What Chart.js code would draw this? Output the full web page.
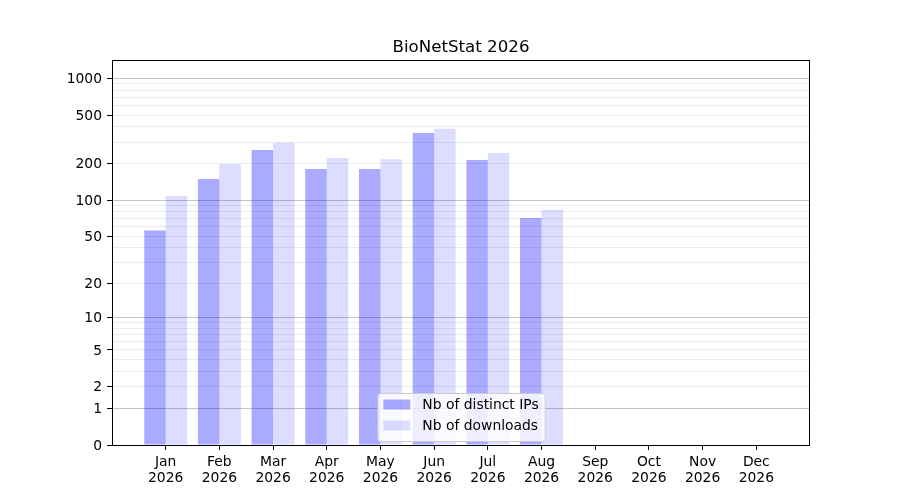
<!DOCTYPE html>
<html lang="en">
<head>
    <meta charset="UTF-8">
    <title>BioNetStat 2026</title>
    <script src="https://cdn.jsdelivr.net/npm/chart.js"></script>
    <style>
        body { margin: 0; background: #fff; }
    </style>
</head>
<body>
    <canvas id="stats" width="900" height="500"></canvas>
<script>
    const title = "BioNetStat 2026";
    const months = ["Jan", "Feb", "Mar", "Apr", "May", "Jun", "Jul", "Aug", "Sep", "Oct", "Nov", "Dec"];
    const year = "2026";
    // data only runs up to August
    const ips = [56, 149, 258, 180, 180, 356, 214, 71];
    const downloads = [108, 198, 297, 222, 217, 386, 244, 83];

    const yLabels = [0, 1, 2, 5, 10, 20, 50, 100, 200, 500, 1000];
    const yMinor = [3, 4, 6, 7, 8, 9, 30, 40, 60, 70, 80, 90, 300, 400, 600, 700, 800, 900];
    const yMajor = [0, 1, 10, 100, 1000];

    const FONT = "DejaVu Sans";

    // y axis is log10(1 + v), so 0 can sit at the bottom
    class Log1pScale extends Chart.Scale {
        static id = "log1p";
        static defaults = {};

        parse(raw) {
            if (raw === null || raw === undefined) return null;
            const v = Number(raw);
            return isFinite(v) && v >= 0 ? v : null;
        }

        determineDataLimits() {
            const { min, max } = this.getMinMax(true);
            this.min = isFinite(this.options.min) ? this.options.min : Math.max(0, min);
            this.max = isFinite(this.options.max) ? this.options.max : max;
        }

        buildTicks() {
            return yLabels.concat(yMinor)
                .sort((a, b) => a - b)
                .filter(v => v >= this.min && v <= this.max)
                .map(v => ({ value: v }));
        }

        getLabelForValue(value) {
            return String(value);
        }

        configure() {
            const start = this.min;
            super.configure();
            this._startValue = Math.log10(1 + start);
            this._valueRange = Math.log10(1 + this.max) - this._startValue;
        }

        getPixelForValue(value) {
            if (value === null || value === undefined || isNaN(value)) return NaN;
            return this.getPixelForDecimal((Math.log10(1 + value) - this._startValue) / this._valueRange);
        }

        getValueForPixel(pixel) {
            return Math.pow(10, this._startValue + this.getDecimalForPixel(pixel) * this._valueRange) - 1;
        }
    }
    Chart.register(Log1pScale);

    // frame, title and legend drawn the matplotlib way
    const decorations = {
        id: "decorations",
        afterDraw(chart) {
            const ctx = chart.ctx;
            const a = chart.chartArea;
            ctx.save();

            ctx.strokeStyle = "#000";
            ctx.lineWidth = 1;
            ctx.strokeRect(Math.round(a.left) + 0.5, Math.round(a.top) + 0.5,
                Math.round(a.right) - Math.round(a.left) - 1, Math.round(a.bottom) - Math.round(a.top));

            ctx.fillStyle = "#000";
            ctx.font = "16.67px '" + FONT + "'";
            ctx.textAlign = "center";
            ctx.textBaseline = "alphabetic";
            ctx.fillText(title, (a.left + a.right) / 2, 52.3);

            ctx.font = "13.89px '" + FONT + "'";
            ctx.textAlign = "left";
            ctx.textBaseline = "middle";
            const items = chart.data.datasets;
            const textW = Math.max(...items.map(d => ctx.measureText(d.label).width));
            const w = 6 + 27 + 12 + textW + 6;
            const h = 48;
            const x = (a.left + a.right) / 2 - w / 2;
            const y = a.bottom - 4 - h;

            ctx.beginPath();
            ctx.roundRect(x + 0.5, y + 0.5, w, h, 3);
            ctx.fillStyle = "rgba(255,255,255,0.8)";
            ctx.fill();
            ctx.strokeStyle = "#cccccc";
            ctx.stroke();

            items.forEach((d, i) => {
                const cy = y + 11.5 + i * 21;
                ctx.fillStyle = d.backgroundColor;
                ctx.fillRect(x + 6, cy - 5, 27, 10);
                ctx.fillStyle = "#000";
                ctx.fillText(d.label, x + 45, cy + 1);
            });
            ctx.restore();
        }
    };

    new Chart(document.getElementById("stats"), {
        type: "bar",
        data: {
            datasets: [{
                label: "Nb of distinct IPs",
                data: ips.map((v, i) => ({ x: i, y: v })),
                backgroundColor: "rgba(0,0,255,0.333)",
                borderWidth: 0,
                categoryPercentage: 0.8,
                barPercentage: 1.0
            }, {
                label: "Nb of downloads",
                data: downloads.map((v, i) => ({ x: i, y: v })),
                backgroundColor: "rgba(0,0,255,0.133)",
                borderWidth: 0,
                categoryPercentage: 0.8,
                barPercentage: 1.0
            }]
        },
        options: {
            responsive: false,
            animation: false,
            layout: { padding: { top: 60.3, right: 90, bottom: 0, left: 0 } },
            plugins: {
                legend: { display: false },
                title: { display: false },
                tooltip: { enabled: true }
            },
            scales: {
                x: {
                    type: "linear",
                    min: -1,
                    max: 12,
                    offset: false,
                    afterBuildTicks: scale => { scale.ticks = months.map((m, i) => ({ value: i })); },
                    afterFit: scale => { scale.height = 55; },
                    grid: {
                        offset: false,
                        drawOnChartArea: false,
                        tickLength: 5,
                        tickColor: "#000"
                    },
                    border: { display: false },
                    ticks: {
                        autoSkip: false,
                        maxRotation: 0,
                        padding: 5,
                        color: "#000",
                        font: { family: FONT, size: 13.89, lineHeight: 1.12 },
                        callback: v => months[v] ? [months[v], year] : ""
                    }
                },
                y: {
                    type: "log1p",
                    min: 0,
                    max: 1405,
                    afterFit: scale => { scale.width = 112; },
                    grid: {
                        color: c => yMajor.includes(c.tick.value) ? "rgba(150,150,150,0.55)" : "rgba(176,176,176,0.25)",
                        tickColor: c => yLabels.includes(c.tick.value) ? "#000" : "rgba(0,0,0,0)",
                        tickLength: 5,
                        lineWidth: 1
                    },
                    border: { display: false },
                    ticks: {
                        autoSkip: false,
                        padding: 5,
                        labelOffset: 1,
                        color: "#000",
                        font: { family: FONT, size: 13.89 },
                        callback: v => yLabels.includes(v) ? String(v) : ""
                    }
                }
            }
        },
        plugins: [decorations]
    });
</script>
</body>
</html>
